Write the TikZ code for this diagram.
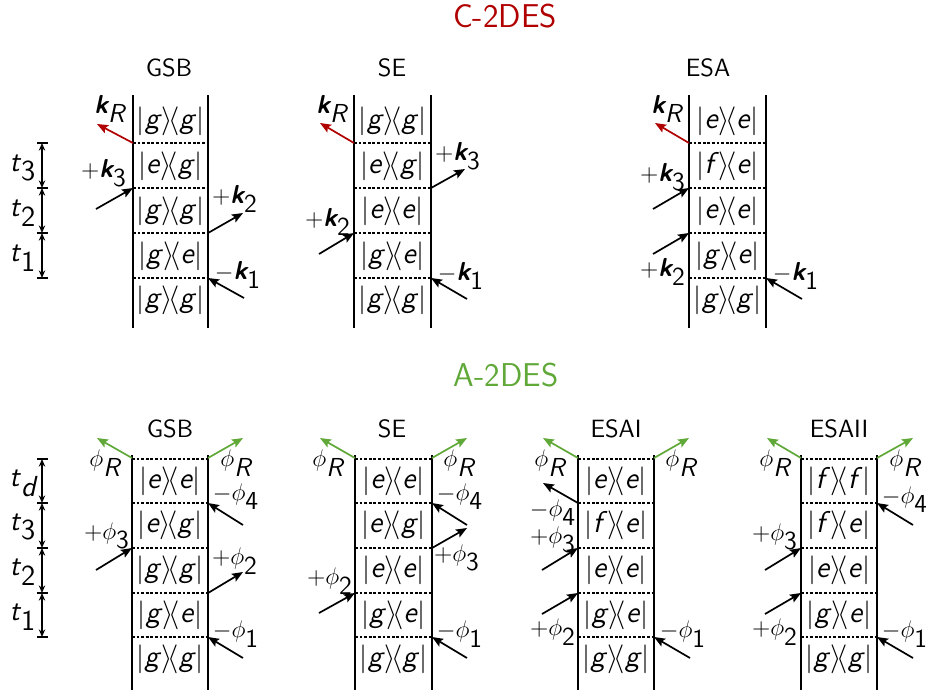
\documentclass[tikz,border=0pt]{standalone}
\usetikzlibrary{arrows.meta}
\definecolor{cred}{RGB}{176,0,0}
\definecolor{cgreen}{RGB}{96,168,56}
\newcommand\kb[2]{$|$\textit{#1}$\rangle\!\langle$\textit{#2}$|$}
\newcommand\Kk[1]{{\bfseries\itshape k}$_{\textsf{#1}}$}
\newcommand\Pp[1]{$\phi_{\textsf{#1}}$}
\newcommand\Arr[4][arr]{\coordinate (#2s) at (#3); \coordinate (#2e) at (#4); \draw[#1] (#2s) -- (#2e);}
\tikzset{
  ket/.style={font=\fontsize{15}{17}\selectfont\sffamily, inner sep=0pt},
  lab/.style={font=\fontsize{13}{15}\selectfont\sffamily, inner sep=0pt},
  tlab/.style={font=\fontsize{14.5}{17}\selectfont\sffamily, inner sep=0pt},
  head/.style={font=\fontsize{12.5}{15}\selectfont\sffamily, inner sep=0pt},
  ttl/.style={font=\fontsize{16.5}{20}\selectfont\sffamily, inner sep=0pt},
  vline/.style={line width=1pt},
  hline/.style={line width=0.6pt, dash pattern=on 1.4pt off 0.9pt},
  arr/.style={line width=0.85pt, -{Stealth[length=5.5pt,width=4.4pt,inset=1pt]}},
  rarr/.style={arr, cred},
  garr/.style={arr, cgreen},
  tarr/.style={line width=0.6pt, {Stealth[length=3.8pt,width=3.2pt]}-{Stealth[length=3.8pt,width=3.2pt]}},
  tick/.style={line width=0.6pt},
}
\begin{document}
\begin{tikzpicture}[x=0.5pt,y=-0.5pt]
\useasboundingbox (0,0) rectangle (926,693);
% titles
\node[ttl, text=cred] (tc) at (505,16) {C-2DES};
\node[ttl, text=cgreen] (ta) at (506,375) {A-2DES};
\node[head] (h1) at (169,68) {GSB};
\node[head] (h2) at (392,68) {SE};
\node[head] (h3) at (708,68) {ESA};
\node[head] (h4) at (170,429) {GSB};
\node[head] (h5) at (392,429) {SE};
\node[head] (h6) at (616,429) {ESAI};
\node[head] (h7) at (839,429) {ESAII};

% ---------- C-2DES columns ----------
\foreach \xl/\xr in {133/208, 354/431, 689/766}{
  \draw[vline] (\xl,95) -- (\xl,328);
  \draw[vline] (\xr,95) -- (\xr,328);
  \foreach \y in {143,188,233,278} \draw[hline] (\xl,\y) -- (\xr,\y);
}
\foreach \a/\b/\y [count=\i] in {g/g/121,e/g/166,g/g/211,g/e/256,g/g/300}
  \node[ket] (cga\i) at (170.5,\y) {\kb{\a}{\b}};
\foreach \a/\b/\y [count=\i] in {g/g/121,e/g/166,e/e/211,g/e/256,g/g/300}
  \node[ket] (csa\i) at (392.5,\y) {\kb{\a}{\b}};
\foreach \a/\b/\y [count=\i] in {e/e/121,f/e/166,e/e/211,g/e/256,g/g/300}
  \node[ket] (cea\i) at (727.5,\y) {\kb{\a}{\b}};

% time axis C
\foreach \y in {143,188,233,278} \draw[tick] (37,\y) -- (48,\y);
\coordinate (ct0) at (42,143); \coordinate (ct1) at (42,188);
\coordinate (ct2) at (42,233); \coordinate (ct3) at (42,278);
\draw[tarr] (ct0) -- (ct1); \draw[tarr] (ct1) -- (ct2); \draw[tarr] (ct2) -- (ct3);
\node[tlab] (ct3l) at (23,168) {\textit{t}$_{\textsf{3}}$};
\node[tlab] (ct2l) at (23,213) {\textit{t}$_{\textsf{2}}$};
\node[tlab] (ct1l) at (23,258) {\textit{t}$_{\textsf{1}}$};

% C GSB
\Arr[rarr]{cgR}{133,143}{97,124}
\Arr{cg3}{96,209}{133,188}
\Arr{cg2}{208,233}{243,213}
\Arr{cg1}{244,298}{208,278}
\node[lab] (cgRl) at (110,109) {\Kk{\itshape R}};
\node[lab] (cg3l) at (104,173) {$+$\Kk{3}};
\node[lab] (cg2l) at (235,199) {$+$\Kk{2}};
\node[lab] (cg1l) at (238,275) {$-$\Kk{1}};
% C SE
\Arr[rarr]{csR}{354,143}{320,123}
\Arr{cs3}{431,188}{465,169}
\Arr{cs2}{319,254}{354,233}
\Arr{cs1}{467,299}{431,278}
\node[lab] (csRl) at (332,109) {\Kk{\itshape R}};
\node[lab] (cs3l) at (458,156) {$+$\Kk{3}};
\node[lab] (cs2l) at (328,222) {$+$\Kk{2}};
\node[lab] (cs1l) at (461,276) {$-$\Kk{1}};
% C ESA
\Arr[rarr]{ceR}{689,143}{655,123}
\Arr{ce3}{653,209}{689,188}
\Arr{ce2}{653,254}{689,233}
\Arr{ce1}{802,299}{766,278}
\node[lab] (ceRl) at (667,109) {\Kk{\itshape R}};
\node[lab] (ce3l) at (663,177) {$+$\Kk{3}};
\node[lab] (ce2l) at (663,272) {$+$\Kk{2}};
\node[lab] (ce1l) at (796,276) {$-$\Kk{1}};

% ---------- A-2DES columns ----------
\foreach \xl/\xr in {132/208, 355/432, 578/654, 801/877}{
  \draw[vline] (\xl,455) -- (\xl,690);
  \draw[vline] (\xr,455) -- (\xr,690);
  \foreach \y in {459,503,548,593,637} \draw[hline] (\xl,\y) -- (\xr,\y);
}
\foreach \a/\b/\y [count=\i] in {e/e/481,e/g/525,g/g/570,g/e/615,g/g/659}
  \node[ket] (aga\i) at (170,\y) {\kb{\a}{\b}};
\foreach \a/\b/\y [count=\i] in {e/e/481,e/g/525,e/e/570,g/e/615,g/g/659}
  \node[ket] (asa\i) at (393.5,\y) {\kb{\a}{\b}};
\foreach \a/\b/\y [count=\i] in {e/e/481,f/e/525,e/e/570,g/e/615,g/g/659}
  \node[ket] (aea\i) at (616,\y) {\kb{\a}{\b}};
\foreach \a/\b/\y [count=\i] in {f/f/481,f/e/525,e/e/570,g/e/615,g/g/659}
  \node[ket] (afa\i) at (839,\y) {\kb{\a}{\b}};

% time axis A
\foreach \y in {459,503,548,593,637} \draw[tick] (37,\y) -- (48,\y);
\coordinate (at0) at (42,459); \coordinate (at1) at (42,503);
\coordinate (at2) at (42,548); \coordinate (at3) at (42,593);
\coordinate (at4) at (42,637);
\draw[tarr] (at0) -- (at1); \draw[tarr] (at1) -- (at2);
\draw[tarr] (at2) -- (at3); \draw[tarr] (at3) -- (at4);
\node[tlab] (atdl) at (23,483) {\textit{t}$_{\textsf{\itshape d}}$};
\node[tlab] (at3l) at (23,527) {\textit{t}$_{\textsf{3}}$};
\node[tlab] (at2l) at (23,572) {\textit{t}$_{\textsf{2}}$};
\node[tlab] (at1l) at (23,617) {\textit{t}$_{\textsf{1}}$};

% A GSB
\Arr[garr]{agL}{132,458}{97,438}
\Arr[garr]{agR}{208,458}{243,438}
\Arr{ag4}{243,525}{208,503}
\Arr{ag3}{96,570}{132,548}
\Arr{ag2}{208,593}{243,572}
\Arr{ag1}{243,658}{208,637}
\node[lab] (agLl) at (105,463) {\Pp{\itshape R}};
\node[lab] (agRl) at (236,463) {\Pp{\itshape R}};
\node[lab] (ag4l) at (236,497) {$-$\Pp{4}};
\node[lab] (ag3l) at (107,536) {$+$\Pp{3}};
\node[lab] (ag2l) at (235,561) {$+$\Pp{2}};
\node[lab] (ag1l) at (236,634) {$-$\Pp{1}};
% A SE
\Arr[garr]{asL}{355,458}{320,438}
\Arr[garr]{asR}{432,458}{467,438}
\Arr{as4}{467,525}{432,503}
\Arr{as3}{432,548}{467,528}
\Arr{as2}{319,613}{355,593}
\Arr{as1}{467,658}{432,637}
\node[lab] (asLl) at (328,463) {\Pp{\itshape R}};
\node[lab] (asRl) at (459,463) {\Pp{\itshape R}};
\node[lab] (as4l) at (460,497) {$-$\Pp{4}};
\node[lab] (as3l) at (457,558) {$+$\Pp{3}};
\node[lab] (as2l) at (330,581) {$+$\Pp{2}};
\node[lab] (as1l) at (460,634) {$-$\Pp{1}};
% A ESAI
\Arr[garr]{aeL}{578,458}{543,438}
\Arr[garr]{aeR}{654,458}{689,438}
\Arr{ae4}{578,503}{543,483}
\Arr{ae3}{542,570}{578,548}
\Arr{ae2}{542,614}{578,593}
\Arr{ae1}{690,658}{654,637}
\node[lab] (aeLl) at (550,463) {\Pp{\itshape R}};
\node[lab] (aeRl) at (681,463) {\Pp{\itshape R}};
\node[lab] (ae4l) at (553,513) {$-$\Pp{4}};
\node[lab] (ae3l) at (553,540) {$+$\Pp{3}};
\node[lab] (ae2l) at (553,632) {$+$\Pp{2}};
\node[lab] (ae1l) at (683,634) {$-$\Pp{1}};
% A ESAII
\Arr[garr]{afL}{801,458}{767,438}
\Arr[garr]{afR}{877,458}{913,438}
\Arr{af4}{913,525}{877,503}
\Arr{af3}{765,570}{801,548}
\Arr{af2}{765,614}{801,593}
\Arr{af1}{913,658}{877,637}
\node[lab] (afLl) at (775,463) {\Pp{\itshape R}};
\node[lab] (afRl) at (905,463) {\Pp{\itshape R}};
\node[lab] (af4l) at (905,500) {$-$\Pp{4}};
\node[lab] (af3l) at (775,537) {$+$\Pp{3}};
\node[lab] (af2l) at (775,632) {$+$\Pp{2}};
\node[lab] (af1l) at (905,634) {$-$\Pp{1}};
\end{tikzpicture}
\end{document}
